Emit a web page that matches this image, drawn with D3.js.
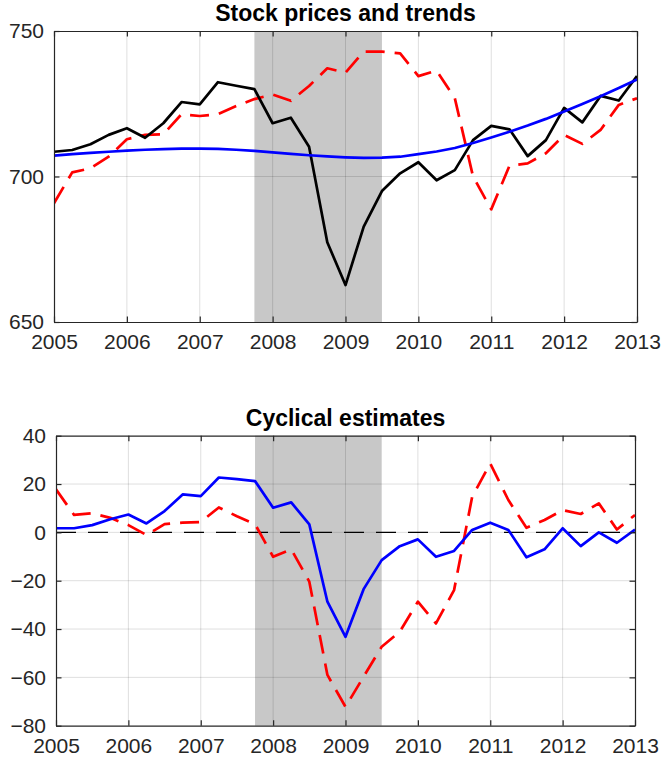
<!DOCTYPE html>
<html>
<head>
<meta charset="utf-8">
<script src="https://cdn.jsdelivr.net/npm/d3@7"></script>
<style>
  body { margin: 0; background: #fff; }
  svg { display: block; font-family: "Liberation Sans", Arial, Helvetica, sans-serif; }
</style>
</head>
<body>
<svg id="chart" width="662" height="757"></svg>
<script>
// quarterly dates, 2005Q1 .. 2013Q1
const quarters = d3.range(33).map(i => 2005 + i / 4);
const yearTicks = d3.range(2005, 2014);

// top panel: stock price and two trend estimates
const stockPrice = [
  708.5, 709.1, 711.1, 714.3, 716.6, 713.3, 718.3, 725.6, 724.8, 732.4, 731.2, 730.0,
  718.3, 720.2, 710.2, 677.4, 662.7, 682.8, 695.0, 701.1, 704.9, 698.7, 702.2, 712.5,
  717.4, 716.2, 707.0, 712.5, 723.6, 718.6, 727.7, 726.1, 734.5
];
const trendDashed = [
  690.8, 701.4, 702.8, 706.8, 712.8, 714.3, 714.5, 721.4, 720.8, 721.4, 724.2, 726.6,
  728.2, 726.0, 731.1, 737.2, 735.7, 742.9, 742.9, 742.3, 734.5, 736.4, 726.9, 700.0,
  688.7, 703.7, 704.5, 708.0, 714.3, 711.2, 716.0, 724.6, 726.9
];
const trendSmooth = [
  707.2, 707.7, 708.1, 708.5, 708.9, 709.2, 709.4, 709.6, 709.6, 709.5, 709.2, 708.8,
  708.3, 707.8, 707.3, 706.9, 706.6, 706.4, 706.5, 706.8, 707.7, 708.6, 709.8, 711.5,
  713.4, 715.4, 717.5, 719.8, 722.3, 724.9, 727.6, 730.4, 733.3
];
const topTicks = [650, 700, 750];

// bottom panel: cyclical estimates
const cycleSolid = [
  1.7, 1.7, 3.0, 5.4, 7.4, 3.7, 8.8, 15.7, 15.0, 22.7, 22.0, 21.2,
  10.2, 12.4, 3.3, -28.7, -43.2, -23.5, -11.5, -5.7, -2.9, -10.1, -7.7, 1.0,
  4.0, 1.0, -10.3, -7.0, 1.7, -5.7, 0.0, -4.3, 1.2
];
const cycleDashed = [
  17.8, 7.2, 7.9, 6.0, 3.0, -1.1, 3.4, 4.0, 4.3, 10.3, 6.7, 3.4,
  -10.1, -7.0, -20.4, -59.0, -72.2, -59.7, -47.3, -41.1, -28.7, -37.7, -23.9, 14.7,
  28.5, 13.4, 1.9, 5.1, 9.2, 7.6, 12.0, 1.2, 7.2
];
const bottomTicks = [-80, -60, -40, -20, 0, 20, 40];

// recession band
const recession = [2007.75, 2009.5];

const svg = d3.select('#chart');
const axisColor = '#262626';
let clipId = 0;

function drawPanel(opts) {
  const x = d3.scaleLinear().domain([2005, 2013]).range([opts.left, opts.right]);
  const y = d3.scaleLinear().domain(opts.yDomain).range([opts.bottom, opts.top]);
  const g = svg.append('g');

  const id = 'clip' + (clipId++);
  g.append('clipPath').attr('id', id).append('rect')
    .attr('x', opts.left).attr('y', opts.top)
    .attr('width', opts.right - opts.left).attr('height', opts.bottom - opts.top);

  g.append('rect')
    .attr('x', x(recession[0])).attr('y', opts.top)
    .attr('width', x(recession[1]) - x(recession[0]))
    .attr('height', opts.bottom - opts.top)
    .attr('fill', '#c8c8c8');

  // grid
  g.append('g').selectAll('line').data(yearTicks.slice(1, -1)).join('line')
    .attr('x1', d => x(d)).attr('x2', d => x(d))
    .attr('y1', opts.top).attr('y2', opts.bottom)
    .attr('stroke', '#000').attr('stroke-opacity', 0.13);
  g.append('g').selectAll('line').data(opts.yTicks.slice(1, -1)).join('line')
    .attr('x1', opts.left).attr('x2', opts.right)
    .attr('y1', d => y(d)).attr('y2', d => y(d))
    .attr('stroke', '#000').attr('stroke-opacity', 0.13);

  if (opts.zeroLine) {
    g.append('line')
      .attr('x1', opts.left).attr('x2', opts.right)
      .attr('y1', y(0)).attr('y2', y(0))
      .attr('stroke', '#000').attr('stroke-width', 1.3)
      .attr('stroke-dasharray', '20,12');
  }

  const line = d3.line().x((d, i) => x(quarters[i])).y(d => y(d));
  const lines = g.append('g').attr('clip-path', `url(#${id})`);
  opts.series.forEach(s => {
    lines.append('path')
      .datum(s.values)
      .attr('d', line)
      .attr('fill', 'none')
      .attr('stroke', s.color)
      .attr('stroke-width', 2.7)
      .attr('stroke-linejoin', 'round')
      .attr('stroke-dasharray', s.dashed ? '19,10' : null);
  });

  // axes with inward ticks on all four sides
  const tickLen = 5.5;
  g.append('g').attr('transform', `translate(0,${opts.bottom})`)
    .call(d3.axisBottom(x).tickValues(yearTicks).tickFormat(d3.format('d'))
      .tickSizeInner(-tickLen).tickSizeOuter(0).tickPadding(12));
  g.append('g').attr('transform', `translate(0,${opts.top})`)
    .call(d3.axisTop(x).tickValues(yearTicks).tickFormat('')
      .tickSizeInner(-tickLen).tickSizeOuter(0));
  g.append('g').attr('transform', `translate(${opts.left},0)`)
    .call(d3.axisLeft(y).tickValues(opts.yTicks).tickFormat(d3.format('d'))
      .tickSizeInner(-tickLen).tickSizeOuter(0).tickPadding(10));
  g.append('g').attr('transform', `translate(${opts.right},0)`)
    .call(d3.axisRight(y).tickValues(opts.yTicks).tickFormat('')
      .tickSizeInner(-tickLen).tickSizeOuter(0));

  g.selectAll('.domain').attr('stroke', axisColor).attr('stroke-width', 1.2);
  g.selectAll('.tick line').attr('stroke', axisColor).attr('stroke-width', 1.2);
  g.selectAll('.tick text')
    .attr('fill', axisColor)
    .style('font-size', '21px');

  g.append('text')
    .attr('x', (opts.left + opts.right) / 2)
    .attr('y', opts.top - 10)
    .attr('text-anchor', 'middle')
    .style('font-size', '23px')
    .style('font-weight', 'bold')
    .attr('fill', '#000')
    .text(opts.title);
}

drawPanel({
  title: 'Stock prices and trends',
  left: 54, right: 637, top: 31, bottom: 322,
  yDomain: [650, 750], yTicks: topTicks,
  series: [
    { values: trendDashed, color: '#ff0000', dashed: true },
    { values: stockPrice, color: '#000000' },
    { values: trendSmooth, color: '#0000ff' }
  ]
});

drawPanel({
  title: 'Cyclical estimates',
  left: 56, right: 635, top: 435.7, bottom: 725.7,
  yDomain: [-80, 40], yTicks: bottomTicks, zeroLine: true,
  series: [
    { values: cycleDashed, color: '#ff0000', dashed: true },
    { values: cycleSolid, color: '#0000ff' }
  ]
});
</script>
</body>
</html>
